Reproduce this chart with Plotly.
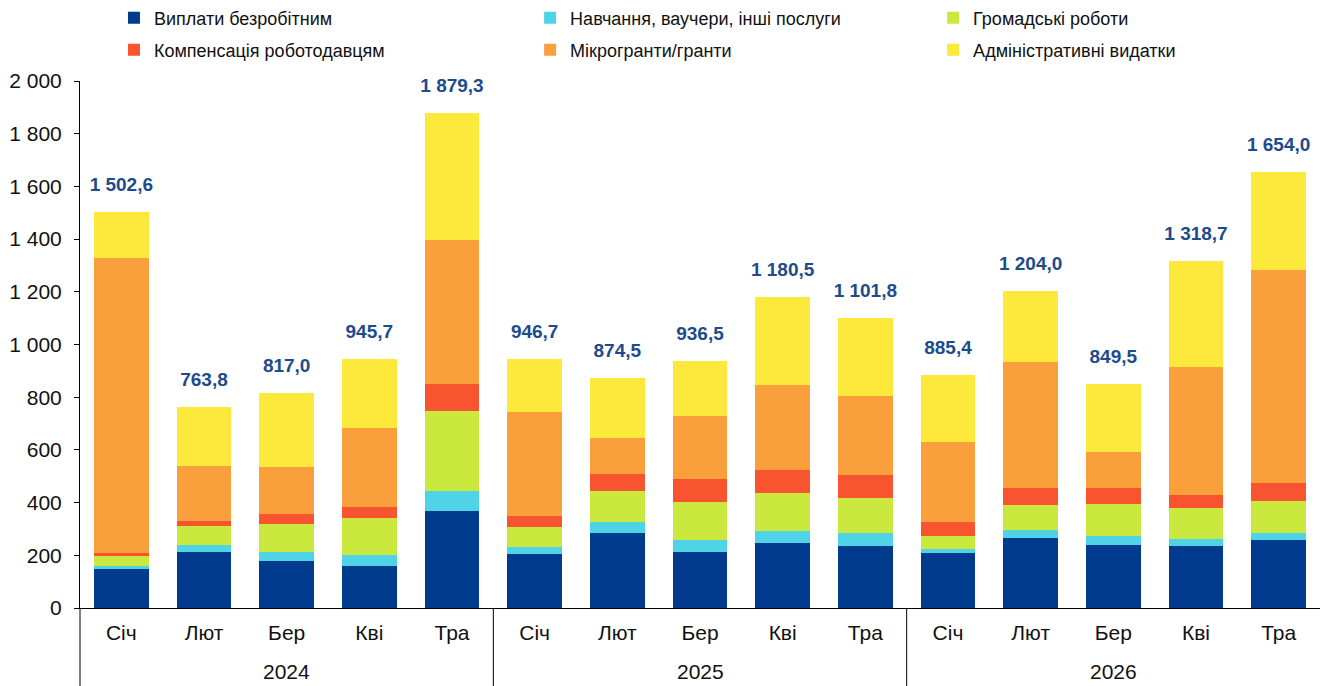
import plotly.graph_objects as go

years = ["2024", "2025", "2026"]
months = ["Січ", "Лют", "Бер", "Кві", "Тра"] * 3
per_year = 5

unemployment = [148, 211, 177, 158, 370, 206, 285, 212, 245, 234, 207, 264, 240, 236, 259]
training = [12, 29, 34, 43, 75, 25, 42, 45, 48, 49, 18, 33, 34, 26, 26]
public_works = [36, 72, 108, 141, 301, 76, 117, 144, 145, 133, 49, 94, 122, 116, 121]
compensation = [13, 19, 39, 41, 105, 44, 64, 89, 84, 89, 53, 63, 58, 51, 68]
microgrants = [1119, 209, 179, 300, 544, 391, 139, 240, 323, 301, 303, 478, 138, 484, 810]
admin = [174.6, 223.8, 280.0, 262.7, 484.3, 204.7, 227.5, 206.5, 335.5, 295.8,
         255.4, 272.0, 257.5, 405.7, 370.0]
totals = [1502.6, 763.8, 817.0, 945.7, 1879.3, 946.7, 874.5, 936.5, 1180.5, 1101.8,
          885.4, 1204.0, 849.5, 1318.7, 1654.0]

series = [
    ("Виплати безробітним", unemployment, "#003B8E"),
    ("Навчання, ваучери, інші послуги", training, "#4FD3E6"),
    ("Громадські роботи", public_works, "#CBE83E"),
    ("Компенсація роботодавцям", compensation, "#F7542F"),
    ("Мікрогранти/гранти", microgrants, "#F9A03D"),
    ("Адміністративні видатки", admin, "#FDE93B"),
]

# one legend per entry so the 3x2 grid sits where the original has it
legend_ids = ["legend", "legend2", "legend3", "legend4", "legend5", "legend6"]
legend_x = [0.0274, 0.363, 0.688, 0.0274, 0.363, 0.688]
legend_y = [1.1195, 1.1195, 1.1195, 1.0588, 1.0588, 1.0588]

n = len(months)
xpos = list(range(n))
font = "Liberation Sans, Arial, sans-serif"

fig = go.Figure()
for (name, vals, color), leg in zip(series, legend_ids):
    fig.add_trace(go.Bar(x=xpos, y=vals, name=name, marker_color=color,
                         marker_line_width=0, legend=leg))

fig.add_trace(go.Scatter(
    x=xpos, y=totals, mode="markers+text",
    text=[f"{v:,.1f}".replace(",", " ").replace(".", ",") for v in totals],
    textposition="top center",
    textfont=dict(size=19, color="#1E4B8C", family=font, weight="bold"),
    marker=dict(size=24, opacity=0),
    cliponaxis=False,
    showlegend=False, hoverinfo="skip",
))

# year labels and group dividers under the month labels
for i, yr in enumerate(years):
    fig.add_annotation(text=yr, xref="paper", yref="paper",
                       x=(i * per_year + per_year / 2) / n, y=-0.1214,
                       xanchor="center", yanchor="middle", showarrow=False,
                       font=dict(size=21, family=font, color="#111"))
    fig.add_shape(type="line", xref="paper", yref="paper",
                  x0=i * per_year / n, x1=i * per_year / n, y0=0, y1=-0.16,
                  line=dict(color="black", width=1))

legends = {}
for leg, lx, ly in zip(legend_ids, legend_x, legend_y):
    legends[leg] = dict(x=lx, y=ly, xanchor="left", yanchor="middle",
                        orientation="h", bgcolor="rgba(0,0,0,0)",
                        font=dict(size=18, family=font, color="#111"),
                        itemwidth=30)

# the page adds an 8px body margin, so the figure is 8px smaller each way
fig.update_layout(
    barmode="stack",
    bargap=0.335,
    width=1325, height=678,
    margin=dict(l=72, r=13, t=73, b=78, autoexpand=False),
    plot_bgcolor="white", paper_bgcolor="white",
    separators=", ",
    font=dict(family=font, size=21, color="#111"),
    xaxis=dict(range=[-0.5, n - 0.5], tickvals=xpos, ticktext=months,
               showline=True, linecolor="black", linewidth=1,
               ticklabelstandoff=6, tickfont=dict(size=21), showgrid=False,
               zeroline=False),
    yaxis=dict(range=[0, 2000], dtick=200, tickformat=",", showline=True,
               linecolor="black", linewidth=1, ticks="outside", ticklen=5,
               tickcolor="black", showgrid=False, zeroline=False,
               ticklabelstandoff=8, tickfont=dict(size=21)),
    **legends,
)

fig.write_html("out.html")
